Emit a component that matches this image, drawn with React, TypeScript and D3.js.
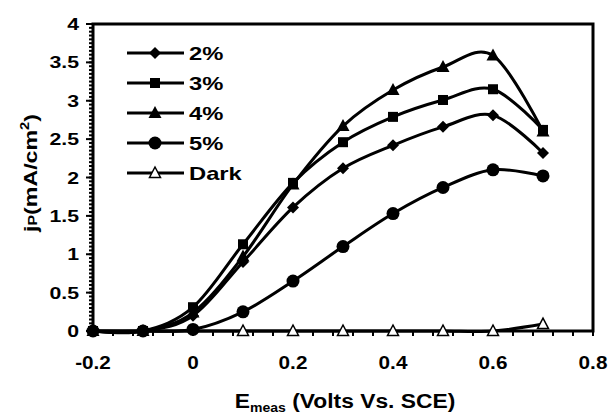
import React from "react";
import * as d3 from "d3";

const voltages = [-0.2, -0.1, 0, 0.1, 0.2, 0.3, 0.4, 0.5, 0.6, 0.7];
const series2 = [0, 0, 0.2, 0.9, 1.61, 2.12, 2.42, 2.66, 2.81, 2.32];
const series3 = [0, 0, 0.31, 1.13, 1.93, 2.46, 2.79, 3.01, 3.15, 2.62];
const series4 = [0, 0, 0.24, 0.97, 1.91, 2.67, 3.14, 3.44, 3.59, 2.6];
const series5 = [0, 0, 0.02, 0.25, 0.65, 1.1, 1.53, 1.87, 2.1, 2.02];
const seriesDark = [0, 0, 0, 0, 0, 0, 0, 0, 0, 0.09];
const seriesNames = ["2%", "3%", "4%", "5%", "Dark"];
const markerKinds = ["diamond", "square", "triangle", "circle", "openTriangle"];
const xTicks = [-0.2, 0, 0.2, 0.4, 0.6, 0.8];
const yTicks = [0, 0.5, 1, 1.5, 2, 2.5, 3, 3.5, 4];

const FONT = "'Liberation Sans', Arial, sans-serif";
const SX = 1.25; // picture is stretched sideways

const left = 93, right = 593, top = 24, bottom = 331;
const x = d3.scaleLinear().domain([-0.2, 0.8]).range([left, right]);
const y = d3.scaleLinear().domain([0, 4]).range([bottom, top]);

function Marker({ kind, cx, cy }: { kind: string; cx: number; cy: number }) {
  if (kind === "circle") return <circle cx={cx} cy={cy} r={6.5} fill="#000" />;
  if (kind === "square") return <rect x={cx - 5} y={cy - 5} width={10} height={10} fill="#000" />;
  if (kind === "diamond")
    return <path d={`M${cx},${cy - 6}L${cx + 6},${cy}L${cx},${cy + 6}L${cx - 6},${cy}Z`} fill="#000" />;
  if (kind === "triangle")
    return <path d={`M${cx},${cy - 7}L${cx + 6.5},${cy + 5}L${cx - 6.5},${cy + 5}Z`} fill="#000" />;
  return (
    <path
      d={`M${cx},${cy - 6}L${cx + 5.5},${cy + 4.5}L${cx - 5.5},${cy + 4.5}Z`}
      fill="#fff"
      stroke="#000"
      strokeWidth={1.5}
    />
  );
}

function SText({ tx, ty, anchor, size, sx = SX, children }: any) {
  return (
    <text
      transform={`translate(${tx},${ty}) scale(${sx},1)`}
      textAnchor={anchor}
      fontFamily={FONT}
      fontWeight="bold"
      fontSize={size}
      fill="#000"
    >
      {children}
    </text>
  );
}

export default function App() {
  const all = [series2, series3, series4, series5, seriesDark];
  const line = d3
    .line<number>()
    .x((_, i) => x(voltages[i]))
    .y((d) => y(d))
    .curve(d3.curveCatmullRom.alpha(0));

  const yMinor = d3.range(0, 4.0001, 0.05);
  const xMinor = d3.range(-0.2, 0.8001, 0.04);

  return (
    <svg width={612} height={416} style={{ position: "absolute", left: 0, top: 0 }}>
      <rect width={612} height={416} fill="#fff" />
      {/* ticks */}
      {yMinor.map((v, i) => (
        <line key={"ym" + i} x1={left - 4} x2={left} y1={y(v)} y2={y(v)} stroke="#000" strokeWidth={2} />
      ))}
      {yTicks.map((v) => (
        <line key={"yM" + v} x1={left - 7} x2={left} y1={y(v)} y2={y(v)} stroke="#000" strokeWidth={2} />
      ))}
      {xMinor.map((v, i) => (
        <line key={"xm" + i} x1={x(v)} x2={x(v)} y1={bottom} y2={bottom + 5} stroke="#000" strokeWidth={2} />
      ))}
      {/* frame */}
      <rect x={left} y={top} width={right - left} height={bottom - top} fill="none" stroke="#000" strokeWidth={3} />

      {/* series */}
      {all.map((s, k) => (
        <g key={"s" + k}>
          <path d={line(s) || ""} fill="none" stroke="#000" strokeWidth={3} />
          {s.map((v, i) =>
            k === 4 && voltages[i] < 0.1 ? null : (
              <Marker key={i} kind={markerKinds[k]} cx={x(voltages[i])} cy={y(v)} />
            )
          )}
        </g>
      ))}

      {/* tick labels */}
      {yTicks.map((v) => (
        <SText key={"yl" + v} tx={79} ty={y(v) + 6} anchor="end" size={17}>
          {String(v)}
        </SText>
      ))}
      {xTicks.map((v) => (
        <SText key={"xl" + v} tx={x(v)} ty={369} anchor="middle" size={18.5} sx={1.12}>
          {String(v)}
        </SText>
      ))}

      {/* legend */}
      {seriesNames.map((n, i) => {
        const ly = 53 + i * 30;
        return (
          <g key={n}>
            <line x1={127} x2={184} y1={ly} y2={ly} stroke="#000" strokeWidth={3} />
            <Marker kind={markerKinds[i]} cx={155} cy={ly} />
            <SText tx={189} ty={ly + 7} anchor="start" size={19}>
              {n}
            </SText>
          </g>
        );
      })}

      {/* axis titles */}
      <SText tx={345} ty={408} anchor="middle" size={19.5} sx={1.17}>
        E<tspan fontSize={12} dy={4}>meas</tspan>
        <tspan dy={-4}> (Volts Vs. SCE)</tspan>
      </SText>
      <text
        transform={`translate(37,173) rotate(-90) scale(1.22,1)`}
        textAnchor="middle"
        fontFamily={FONT}
        fontWeight="bold"
        fontSize={19}
      >
        j<tspan fontSize={13}>P</tspan>(mA/cm<tspan fontSize={12} dy={-8}>2</tspan>
        <tspan dy={8}>)</tspan>
      </text>
    </svg>
  );
}
